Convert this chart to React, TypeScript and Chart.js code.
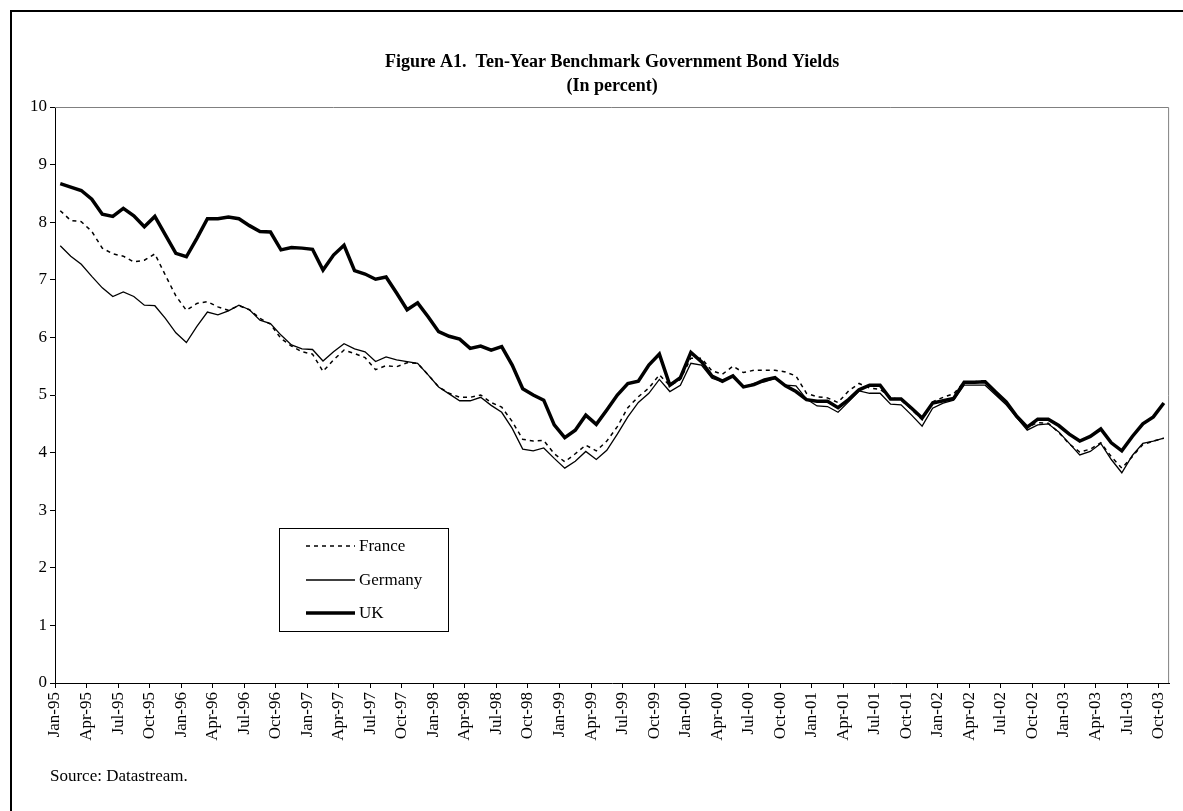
import React, { useEffect, useRef } from 'react';
import { Chart, registerables } from 'chart.js';

Chart.register(...registerables);

const tickLabels = [
  'Jan-95', 'Apr-95', 'Jul-95', 'Oct-95', 'Jan-96', 'Apr-96', 'Jul-96', 'Oct-96',
  'Jan-97', 'Apr-97', 'Jul-97', 'Oct-97', 'Jan-98', 'Apr-98', 'Jul-98', 'Oct-98',
  'Jan-99', 'Apr-99', 'Jul-99', 'Oct-99', 'Jan-00', 'Apr-00', 'Jul-00', 'Oct-00',
  'Jan-01', 'Apr-01', 'Jul-01', 'Oct-01', 'Jan-02', 'Apr-02', 'Jul-02', 'Oct-02',
  'Jan-03', 'Apr-03', 'Jul-03', 'Oct-03',
];

// Monthly values, Jan-95 .. Oct-03 (106 months)
const france = [
  8.20, 8.03, 8.01, 7.84, 7.55, 7.45, 7.41, 7.31, 7.34, 7.45, 7.08, 6.72,
  6.47, 6.59, 6.62, 6.53, 6.47, 6.55, 6.48, 6.33, 6.23, 5.98, 5.85, 5.75,
  5.71, 5.41, 5.61, 5.78, 5.72, 5.65, 5.44, 5.51, 5.49, 5.56, 5.55, 5.35,
  5.14, 5.03, 4.96, 4.96, 5.00, 4.87, 4.79, 4.54, 4.23, 4.20, 4.21, 3.98,
  3.84, 3.98, 4.13, 4.03, 4.20, 4.45, 4.78, 4.97, 5.12, 5.35, 5.16, 5.27,
  5.64, 5.64, 5.42, 5.36, 5.50, 5.39, 5.43, 5.43, 5.43, 5.40, 5.33, 5.03,
  4.97, 4.95, 4.87, 5.07, 5.20, 5.12, 5.10, 4.96, 4.91, 4.75, 4.57, 4.88,
  4.96, 5.02, 5.23, 5.23, 5.25, 5.04, 4.86, 4.63, 4.44, 4.52, 4.51, 4.35,
  4.15, 4.01, 4.06, 4.17, 3.93, 3.73, 3.93, 4.14, 4.20, 4.25,
];

const germany = [
  7.59, 7.41, 7.27, 7.06, 6.86, 6.71, 6.79, 6.71, 6.56, 6.55, 6.33, 6.08,
  5.91, 6.19, 6.44, 6.39, 6.46, 6.56, 6.48, 6.30, 6.24, 6.04, 5.87, 5.80,
  5.79, 5.59, 5.75, 5.89, 5.80, 5.75, 5.58, 5.66, 5.61, 5.58, 5.55, 5.35,
  5.14, 5.02, 4.90, 4.90, 4.96, 4.82, 4.70, 4.42, 4.06, 4.03, 4.08, 3.90,
  3.73, 3.85, 4.02, 3.88, 4.04, 4.32, 4.62, 4.87, 5.03, 5.27, 5.06, 5.17,
  5.55, 5.52, 5.29, 5.23, 5.33, 5.13, 5.20, 5.23, 5.29, 5.17, 5.16, 4.93,
  4.81, 4.80, 4.70, 4.88, 5.07, 5.03, 5.03, 4.84, 4.83, 4.65, 4.46, 4.77,
  4.86, 4.91, 5.17, 5.17, 5.17, 5.00, 4.83, 4.61, 4.39, 4.48, 4.50, 4.36,
  4.16, 3.96, 4.02, 4.16, 3.88, 3.65, 3.95, 4.16, 4.20, 4.25,
];

const uk = [
  8.67, 8.61, 8.55, 8.40, 8.14, 8.10, 8.24, 8.11, 7.92, 8.10, 7.78, 7.46,
  7.40, 7.72, 8.06, 8.06, 8.09, 8.06, 7.94, 7.84, 7.83, 7.52, 7.56, 7.55,
  7.53, 7.17, 7.43, 7.60, 7.16, 7.10, 7.01, 7.05, 6.77, 6.48, 6.60, 6.36,
  6.10, 6.02, 5.97, 5.81, 5.85, 5.78, 5.84, 5.52, 5.11, 5.00, 4.91, 4.48,
  4.26, 4.39, 4.65, 4.49, 4.74, 5.00, 5.20, 5.24, 5.52, 5.71, 5.17, 5.30,
  5.74, 5.58, 5.33, 5.24, 5.33, 5.14, 5.18, 5.26, 5.30, 5.16, 5.06, 4.92,
  4.89, 4.89, 4.78, 4.92, 5.09, 5.17, 5.17, 4.93, 4.93, 4.77, 4.60, 4.86,
  4.90, 4.94, 5.22, 5.22, 5.23, 5.05, 4.88, 4.63, 4.44, 4.58, 4.58, 4.47,
  4.32, 4.20, 4.28, 4.41, 4.17, 4.03, 4.28, 4.50, 4.62, 4.86,
];

const titleLines = ['Figure A1.  Ten-Year Benchmark Government Bond Yields', '(In percent)'];
const sourceText = 'Source: Datastream.';
const TICK_STEP = 3;

const SERIF = "'Liberation Serif', 'Times New Roman', Times, serif";

const toPoints = (arr: number[]) => arr.map((y, i) => ({ x: i + 0.5, y }));

const decorPlugin = {
  id: 'decor',
  afterDraw(chart: any) {
    const { ctx, chartArea } = chart;
    ctx.save();
    // outer frame
    ctx.strokeStyle = '#000';
    ctx.lineWidth = 2;
    ctx.strokeRect(11, 11, 1300, 900);

    // plot area top/right border
    ctx.strokeStyle = '#808080';
    ctx.lineWidth = 1;
    ctx.beginPath();
    ctx.moveTo(chartArea.left, chartArea.top + 0.5);
    ctx.lineTo(chartArea.right - 0.5, chartArea.top + 0.5);
    ctx.lineTo(chartArea.right - 0.5, chartArea.bottom);
    ctx.stroke();

    // title
    ctx.fillStyle = '#000';
    ctx.font = `bold 18px ${SERIF}`;
    ctx.textAlign = 'center';
    ctx.textBaseline = 'middle';
    const cx = (chartArea.left + chartArea.right) / 2;
    ctx.fillText(titleLines[0], cx, 62);
    ctx.fillText(titleLines[1], cx, 86);

    // source
    ctx.font = `17px ${SERIF}`;
    ctx.textAlign = 'left';
    ctx.fillText(sourceText, 50, 777);

    // legend
    const lx = 279.5, ly = 528.5, lw = 169, lh = 103;
    ctx.fillStyle = '#fff';
    ctx.fillRect(lx, ly, lw, lh);
    ctx.strokeStyle = '#000';
    ctx.lineWidth = 1;
    ctx.strokeRect(lx, ly, lw, lh);
    const rows = [546, 580, 613];
    chart.data.datasets.forEach((ds: any, k: number) => {
      const y = rows[k];
      ctx.beginPath();
      ctx.setLineDash(ds.borderDash || []);
      ctx.lineWidth = ds.borderWidth;
      ctx.strokeStyle = ds.borderColor;
      ctx.moveTo(306, y);
      ctx.lineTo(355, y);
      ctx.stroke();
      ctx.setLineDash([]);
      ctx.fillStyle = '#000';
      ctx.font = `17px ${SERIF}`;
      ctx.textAlign = 'left';
      ctx.textBaseline = 'middle';
      ctx.fillText(ds.label, 359, y + 1);
    });
    ctx.restore();
  },
};

export default function App() {
  const ref = useRef<HTMLCanvasElement | null>(null);

  useEffect(() => {
    if (!ref.current) return;
    const chart = new Chart(ref.current, {
      type: 'line',
      data: {
        datasets: [
          {
            label: 'France',
            data: toPoints(france),
            borderColor: '#000',
            borderWidth: 1.5,
            borderDash: [4, 4],
            pointRadius: 0,
            tension: 0,
            fill: false,
          },
          {
            label: 'Germany',
            data: toPoints(germany),
            borderColor: '#000',
            borderWidth: 1.3,
            pointRadius: 0,
            tension: 0,
            fill: false,
          },
          {
            label: 'UK',
            data: toPoints(uk),
            borderColor: '#000',
            borderWidth: 3.5,
            pointRadius: 0,
            tension: 0,
            fill: false,
          },
        ],
      },
      options: {
        animation: false,
        responsive: false,
        devicePixelRatio: 1,
        events: [],
        layout: { padding: { left: 11, top: 107, right: 0, bottom: 58 } },
        plugins: {
          legend: { display: false },
          title: { display: false },
          tooltip: { enabled: false },
        },
        scales: {
          x: {
            type: 'linear',
            min: 0,
            max: france.length,
            afterBuildTicks: (scale: any) => {
              scale.ticks = tickLabels.map((_, k) => ({ value: k * TICK_STEP }));
            },
            afterFit: (scale: any) => {
              scale.height = 70;
            },
            ticks: {
              autoSkip: false,
              maxRotation: 90,
              minRotation: 90,
              padding: 4,
              color: '#000',
              font: { family: SERIF, size: 17 },
              callback: (v: any) => tickLabels[Math.round(Number(v) / TICK_STEP)] ?? '',
            },
            grid: {
              drawOnChartArea: false,
              drawTicks: true,
              tickLength: 5,
              color: '#000',
            },
            border: { display: true, color: '#000', width: 1 },
          },
          y: {
            min: 0,
            max: 10,
            afterFit: (scale: any) => {
              scale.width = 44;
            },
            ticks: {
              stepSize: 1,
              padding: 3,
              color: '#000',
              font: { family: SERIF, size: 17 },
            },
            grid: {
              drawOnChartArea: false,
              drawTicks: true,
              tickLength: 5,
              color: '#000',
            },
            border: { display: true, color: '#000', width: 1 },
          },
        },
      },
      plugins: [decorPlugin],
    });
    return () => chart.destroy();
  }, []);

  return (
    <div style={{ position: 'absolute', left: 0, top: 0, width: 1183, height: 811, background: '#fff' }}>
      <canvas ref={ref} width={1183} height={811} style={{ display: 'block' }} />
    </div>
  );
}
